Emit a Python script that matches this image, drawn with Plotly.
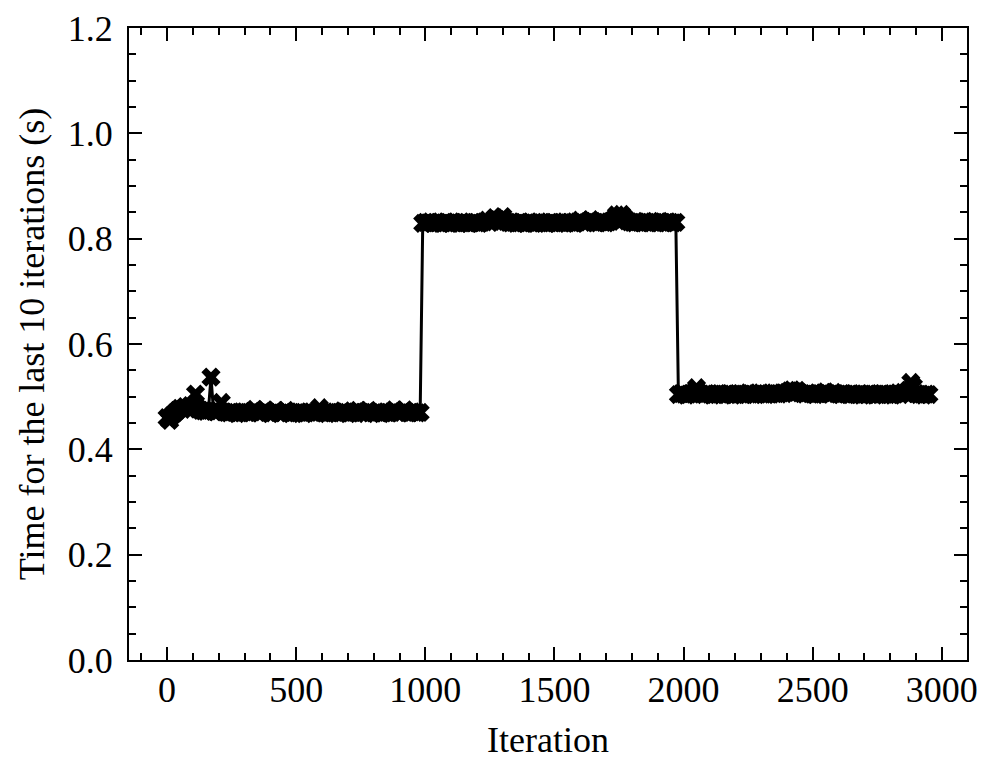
import plotly.graph_objects as go

# Time for the last 10 iterations (s), sampled every 10 iterations
seg1_start = 0
seg1 = [0.460, 0.455, 0.465, 0.469, 0.474, 0.478, 0.476, 0.481, 0.477, 0.483,
        0.480, 0.505, 0.477, 0.474, 0.473, 0.472, 0.474, 0.537, 0.472, 0.471,
        0.473, 0.489, 0.471,
        0.470, 0.469, 0.471, 0.470, 0.468, 0.470, 0.469, 0.471, 0.470, 0.469,
        0.472, 0.476, 0.470, 0.469, 0.471, 0.475, 0.470, 0.468, 0.469, 0.474,
        0.470, 0.469, 0.470, 0.474, 0.469, 0.468, 0.470, 0.469, 0.471, 0.470,
        0.468, 0.469, 0.470, 0.471, 0.469, 0.472, 0.479, 0.470, 0.469, 0.468,
        0.470, 0.469, 0.471, 0.470, 0.469, 0.473, 0.470, 0.468, 0.469, 0.470,
        0.471, 0.474, 0.469, 0.470, 0.468, 0.474, 0.470, 0.469, 0.471, 0.470,
        0.468, 0.469, 0.470, 0.469, 0.471, 0.475, 0.470, 0.469, 0.470, 0.475,
        0.470, 0.469, 0.471, 0.470, 0.469, 0.470]
seg2_start = 990
seg2 = [0.829, 0.831, 0.830, 0.832, 0.829, 0.830, 0.831, 0.829, 0.830, 0.832,
        0.830, 0.829, 0.831, 0.830, 0.829, 0.832, 0.830, 0.831, 0.829, 0.830,
        0.831, 0.830, 0.829, 0.831, 0.832, 0.835, 0.831, 0.833, 0.840, 0.836,
        0.832, 0.842, 0.833, 0.831, 0.830, 0.831, 0.829, 0.830, 0.832, 0.830,
        0.829, 0.831, 0.830, 0.829, 0.830, 0.832, 0.830, 0.831, 0.829, 0.830,
        0.831, 0.830, 0.829, 0.831, 0.830, 0.832, 0.830, 0.831, 0.830, 0.829,
        0.832, 0.835, 0.831, 0.830, 0.832, 0.836, 0.833, 0.831, 0.830, 0.832,
        0.831, 0.830, 0.832, 0.833, 0.837, 0.845, 0.838, 0.846, 0.840, 0.834,
        0.832, 0.831, 0.830, 0.832, 0.831, 0.830, 0.833, 0.831, 0.830, 0.832,
        0.831, 0.830, 0.833, 0.831, 0.830, 0.832, 0.831, 0.830, 0.831]
seg3_start = 1980
seg3 = [0.504, 0.506, 0.505, 0.503, 0.505, 0.506, 0.508, 0.517, 0.507, 0.505,
        0.504, 0.506, 0.505, 0.503, 0.505, 0.504, 0.506, 0.505, 0.504, 0.506,
        0.505, 0.503, 0.505, 0.504, 0.506, 0.505, 0.504, 0.507, 0.505, 0.504,
        0.506, 0.505, 0.507, 0.505, 0.504, 0.506, 0.505, 0.507, 0.506, 0.505,
        0.507, 0.506, 0.508, 0.511, 0.513, 0.509, 0.512, 0.507, 0.506, 0.505,
        0.507, 0.506, 0.505, 0.504, 0.506, 0.505, 0.507, 0.509, 0.506, 0.505,
        0.508, 0.506, 0.505, 0.504, 0.506, 0.505, 0.504, 0.506, 0.505, 0.504,
        0.505, 0.503, 0.505, 0.504, 0.506, 0.505, 0.503, 0.505, 0.504, 0.506,
        0.505, 0.504, 0.505, 0.503, 0.505, 0.507, 0.504, 0.508, 0.506, 0.512,
        0.527, 0.519, 0.506, 0.504, 0.505, 0.503, 0.505, 0.504]
step = 10

x_tick_vals = [0, 500, 1000, 1500, 2000, 2500, 3000]
y_tick_vals = [0.0, 0.2, 0.4, 0.6, 0.8, 1.0, 1.2]
y_tick_text = ["0.0", "0.2", "0.4", "0.6", "0.8", "1.0", "1.2"]

xs, ys = [], []
for start, seg in [(seg1_start, seg1), (seg2_start, seg2), (seg3_start, seg3)]:
    for i, v in enumerate(seg):
        xs.append(start + step * i)
        ys.append(v)

font = "Liberation Serif"
fsize = 36
fig = go.Figure()
fig.add_trace(go.Scatter(
    x=xs, y=ys, mode="lines+markers",
    line=dict(color="black", width=3),
    marker=dict(symbol="x", size=17, color="black", line=dict(width=0)),
    showlegend=False,
))

xmin, xmax = min(xs), max(xs)
pad = 0.05 * (xmax - xmin)

axis_common = dict(
    showline=True, linecolor="black", linewidth=2, mirror="allticks",
    ticks="inside", ticklen=13, tickwidth=2, tickcolor="black",
    showgrid=False, zeroline=False, automargin=False,
    tickfont=dict(family=font, size=fsize, color="black"),
)
fig.update_xaxes(
    range=[xmin - pad, xmax + pad], tickvals=x_tick_vals,
    minor=dict(dtick=100, ticks="inside", ticklen=7, tickwidth=2, tickcolor="black"),
    title=dict(text="Iteration", font=dict(family=font, size=fsize, color="black"), standoff=18),
    ticklabelstandoff=-3,
    **axis_common,
)
fig.update_yaxes(
    range=[0, 1.2], tickvals=y_tick_vals, ticktext=y_tick_text,
    minor=dict(dtick=0.05, ticks="inside", ticklen=7, tickwidth=2, tickcolor="black"),
    title=dict(text="Time for the last 10 iterations (s)", font=dict(family=font, size=fsize, color="black"), standoff=12),
    ticklabelstandoff=7,
    **axis_common,
)
# page body adds an 8px offset; margins compensate so the plot area sits at x 129-967, y 28-660
fig.update_layout(
    width=987, height=767,
    margin=dict(l=121, r=28, t=20, b=115),
    plot_bgcolor="white", paper_bgcolor="white",
    font=dict(family=font, color="black"),
)
fig.write_html("out.html")
